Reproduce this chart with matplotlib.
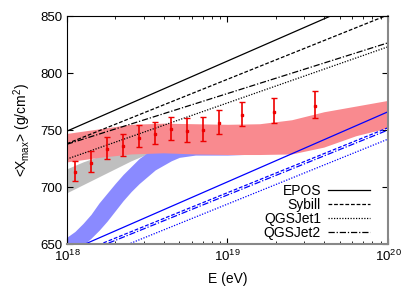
import numpy as np
import matplotlib
matplotlib.use("Agg")
import matplotlib.pyplot as plt

plt.rcParams['font.family'] = ['Liberation Sans', 'DejaVu Sans']
plt.rcParams['mathtext.fontset'] = 'custom'
plt.rcParams['mathtext.rm'] = 'Liberation Sans'
plt.rcParams['mathtext.it'] = 'Liberation Sans'

# measured <Xmax> points
lgE_data = [18.05, 18.15, 18.25, 18.35, 18.45, 18.55, 18.65, 18.75, 18.85, 18.95, 19.09, 19.29, 19.545]
xmax_data = [713.4, 721.3, 733.3, 736.3, 743.0, 746.5, 750.9, 749.0, 750.0, 756.4, 763.4, 766.0, 771.3]
err_up = [9.6, 10.3, 10.3, 10.2, 11.0, 10.5, 10.8, 11.8, 11.7, 11.1, 11.4, 12.3, 13.2]
err_dn = [8.4, 7.9, 8.3, 8.8, 8.2, 8.8, 9.7, 9.3, 9.4, 9.9, 9.9, 10.1, 11.1]

# red band
lgE_red = [18.0, 18.2, 18.4, 18.6, 18.8, 19.0, 19.2, 19.4, 19.6, 19.8, 20.0]
red_top = [747, 751, 755, 756, 755.5, 755, 755.5, 759, 766, 771, 776]
red_bot = [722, 726, 729, 730, 729, 728.5, 728.5, 729, 735, 745, 752]

# grey band
lgE_grey = [18.0, 18.1, 18.2, 18.3, 18.4, 18.5, 18.55]
grey_top = [716, 722, 727, 730, 732, 732, 731]
grey_bot = [695, 702, 709, 716, 723, 729, 730]

# blue band
lgE_blue = [18.0, 18.05, 18.1, 18.15, 18.2, 18.25, 18.3, 18.35, 18.4, 18.45,
            18.5, 18.55, 18.6, 18.65, 18.7, 18.8, 19.0, 19.2]
blue_top = [656, 661, 668, 676, 686, 694.5, 703, 711, 718, 725,
            730, 732.5, 733, 733, 733, 733, 733, 733]
blue_bot = [640, 644, 649, 655, 662, 670, 679, 688, 696, 703,
            709, 715, 719, 723, 726, 728, 728, 729]

# model lines, values at 10^18 and 10^20
models = ['EPOS', 'Sybill', 'QGSJet1', 'QGSJet2']
p_18 = [749, 738, 724.5, 737.5]
p_20 = [872, 851, 823, 826.5]
fe_18 = [643, 638, 628, 636]
fe_20 = [766, 752, 742, 750]
styles = ['-', (0, (3, 1.5)), (0, (1, 1.2)), (0, (5, 1.5, 1, 1.5))]

fig = plt.figure(figsize=(4.13, 2.89), dpi=100)
ax = fig.add_axes([0.162, 0.1557, 0.7775, 0.7889])

E = lambda lg: 10.0 ** np.array(lg, dtype=float)

ax.fill_between(E(lgE_grey), grey_bot, grey_top, color='#bfbfbf', lw=0)
ax.fill_between(E(lgE_blue), blue_bot, blue_top, color='#8a8aff', lw=0)
ax.fill_between(E(lgE_red), red_bot, red_top, color='#f98a8f', lw=0)

for i in range(len(models)):
    ax.plot(E([18, 20]), [p_18[i], p_20[i]], color='black', lw=0.9, ls=styles[i])
    ax.plot(E([18, 20]), [fe_18[i], fe_20[i]], color='blue', lw=0.9, ls=styles[i])

ax.errorbar(E(lgE_data), xmax_data, yerr=[err_dn, err_up], fmt='s', ms=1.8,
            color='#ee0000', ecolor='#ee0000', elinewidth=1.2, capsize=2, capthick=1)

# legend handles
for i in range(len(models)):
    ax.plot([], [], color='black', lw=0.9, ls=styles[i], label=models[i])
ax.legend(loc='lower right', bbox_to_anchor=(0.96, -0.005), frameon=False,
          markerfirst=False, fontsize=10, handlelength=3.0, labelspacing=0.0,
          borderaxespad=0.0, handletextpad=0.5)

ax.set_xscale('log')
ax.set_xlim(1e18, 1e20)
ax.set_ylim(650, 850)
ax.set_yticks([650, 700, 750, 800, 850])
ax.tick_params(which='both', direction='in', top=True, right=True, labelsize=9.5)
ax.tick_params(which='major', length=4)
ax.tick_params(which='minor', length=2)
ax.set_xlabel('E (eV)', fontsize=10, labelpad=6)
ax.set_ylabel(r'<X$_{max}$> (g/cm$^2$)', fontsize=10, labelpad=5)
for s in ['right', 'bottom']:
    ax.spines[s].set_color('#888888')
    ax.spines[s].set_linewidth(1.5)

fig.savefig('out.png', dpi=100)
